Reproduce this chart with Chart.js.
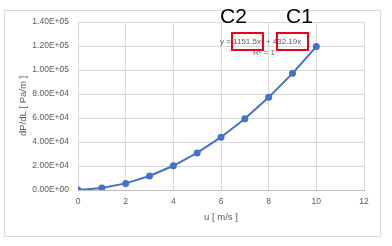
<!DOCTYPE html>
<html>
<head>
<meta charset="utf-8">
<script src="https://cdn.jsdelivr.net/npm/chart.js@4/dist/chart.umd.min.js"></script>
<style>
  html, body { margin: 0; padding: 0; background: #fff; }
  #wrap { width: 392px; height: 246px; }
</style>
</head>
<body>
<div id="wrap"><canvas id="dpChart" width="392" height="246"></canvas></div>
<script>
// data
const velocity = [0, 1, 2, 3, 4, 5, 6, 7, 8, 9, 10];
const pressureDrop = [0, 1600, 5500, 11700, 20200, 30900, 44000, 59400, 77200, 97200, 119500];
const trendText = 'y = 1151.5x\u00b2 + 432.19x';
const r2Text = 'R\u00b2 = 1';
const coefLabels = ['C2', 'C1'];

const FONT = '"Liberation Sans", Arial, sans-serif';
const GREY = '#595959';

// format like Excel: 1.40E+05
function sci(v) {
    let [m, e] = v.toExponential(2).split('e');
    let sign = e[0] === '-' ? '-' : '+';
    let n = Math.abs(parseInt(e, 10));
    return m.toUpperCase() + 'E' + sign + (n < 10 ? '0' + n : n);
}

// frame, trendline equation and the red C1/C2 boxes
const extras = {
    id: 'extras',
    beforeDraw(chart) {
        const c = chart.ctx;
        c.save();
        c.fillStyle = '#fff';
        c.fillRect(0, 0, chart.width, chart.height);
        c.strokeStyle = '#d9d9d9';
        c.lineWidth = 1;
        c.strokeRect(4.5, 10.5, 376, 226);
        c.restore();
    },
    afterDraw(chart) {
        const c = chart.ctx;
        c.save();
        c.fillStyle = GREY;
        c.font = '8px ' + FONT;
        c.textBaseline = 'middle';
        c.textAlign = 'left';
        c.fillText(trendText, 220, 42);
        c.textAlign = 'center';
        c.fillText(r2Text, 264, 53);

        c.fillStyle = '#000';
        c.font = '21px ' + FONT;
        c.textAlign = 'left';
        c.textBaseline = 'alphabetic';
        c.fillText(coefLabels[0], 220, 23);
        c.fillText(coefLabels[1], 286, 23);

        c.strokeStyle = '#e8001c';
        c.lineWidth = 2;
        c.strokeRect(232, 33, 31, 17);
        c.strokeRect(277, 33, 31, 17);
        c.restore();
    }
};

const ctx = document.getElementById('dpChart').getContext('2d');
const dpChart = new Chart(ctx, {
    type: 'line',
    data: {
        datasets: [{
            data: velocity.map((u, i) => ({ x: u, y: pressureDrop[i] })),
            borderColor: '#4472c4',
            backgroundColor: '#4472c4',
            borderWidth: 2,
            pointRadius: 3.5,
            pointBorderWidth: 0,
            tension: 0
        }]
    },
    options: {
        responsive: false,
        animation: false,
        events: [],
        layout: { padding: { left: 4, top: 22, right: 28, bottom: 23 } },
        plugins: { legend: { display: false }, tooltip: { enabled: false } },
        scales: {
            x: {
                type: 'linear',
                min: 0, max: 12,
                ticks: { stepSize: 2, color: GREY, font: { family: FONT, size: 8.5 }, padding: 7 },
                grid: { color: '#d9d9d9', drawTicks: false },
                border: { color: '#bfbfbf' },
                title: { display: true, text: 'u [ m/s ]', color: GREY, font: { family: FONT, size: 9.5 }, padding: { top: 4, bottom: 0 } },
                afterFit: s => { s.height = 33; }
            },
            y: {
                min: 0, max: 140000,
                ticks: { stepSize: 20000, color: GREY, font: { family: FONT, size: 8.5 }, padding: 9, callback: v => sci(v) },
                grid: { color: '#d9d9d9', drawTicks: false },
                border: { display: false },
                title: { display: true, text: 'dP/dL [ Pa/m ]', color: GREY, font: { family: FONT, size: 9.5 }, padding: { top: 14, bottom: 0 } },
                afterFit: s => { s.width = 74; }
            }
        }
    },
    plugins: [extras]
});
</script>
</body>
</html>
